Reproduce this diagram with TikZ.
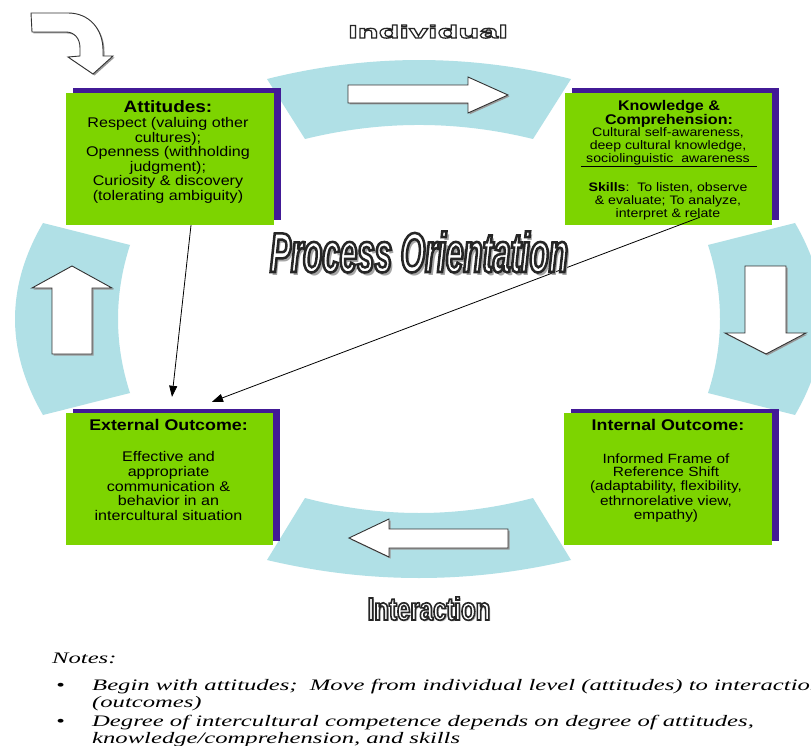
\documentclass[tikz,border=0pt]{standalone}
\usepackage{fontspec}
\setmainfont{Liberation Sans}
\newfontfamily\bx[FakeStretch=1.15]{Liberation Sans}
\newfontfamily\nt[FakeStretch=1.54]{Liberation Serif}
\newfontfamily\pofont[FakeStretch=0.56,FakeBold=4.5]{Liberation Sans}
\newfontfamily\pofontS[FakeStretch=0.56]{Liberation Sans}
\newfontfamily\indfont[FakeStretch=1.9,FakeBold=7]{Liberation Sans}
\newfontfamily\indfontS[FakeStretch=1.9]{Liberation Sans}
\newfontfamily\intfont[FakeStretch=0.75,FakeBold=5]{Liberation Sans}
\newfontfamily\intfontS[FakeStretch=0.75]{Liberation Sans}
\newcommand\blackstroke{\special{pdf:code 0.15 0.15 0.15 RG}}
\usetikzlibrary{arrows.meta,shadows}
\definecolor{ring}{RGB}{176,224,230}
\definecolor{lime}{RGB}{125,212,0}
\definecolor{purp}{RGB}{66,26,150}
\begin{document}
\begin{tikzpicture}[x=1pt,y=-1pt,
  seg/.style={fill=ring,draw=none},
  box/.style={rectangle,fill=lime,draw=none,minimum width=208pt,minimum height=132pt,inner sep=0pt,
     general shadow={fill=purp,shadow xshift=6.5pt,shadow yshift=4.5pt}},
  blk/.style={fill=white,draw=black!80,line width=0.9pt,line join=miter},
  blksh/.style={fill=black!40,draw=none},
  conn/.style={-{Triangle[length=11pt,width=8pt]},line width=0.8pt,black},
  ttl/.style={font=\bx\bfseries\fontsize{16.5}{18}\selectfont,anchor=base,inner sep=0pt},
  body/.style={font=\bx\fontsize{14}{16}\selectfont,anchor=base,inner sep=0pt},
  ktl/.style={font=\bx\bfseries\fontsize{14}{16}\selectfont,anchor=base,inner sep=0pt},
  kbody/.style={font=\bx\fontsize{12.3}{14}\selectfont,anchor=base,inner sep=0pt},
  otl/.style={font=\bx\bfseries\fontsize{15.5}{17}\selectfont,anchor=base,inner sep=0pt},
  notes/.style={font=\nt\itshape\fontsize{16}{18}\selectfont,anchor=base west,inner sep=0pt},
  pofnt/.style={font=\pofont\bfseries\itshape\fontsize{56}{60}\selectfont,anchor=base,inner sep=0pt},
  pofntS/.style={font=\pofontS\bfseries\itshape\fontsize{56}{60}\selectfont,anchor=base,inner sep=0pt},
  indfnt/.style={font=\indfont\bfseries\fontsize{18}{20}\selectfont,anchor=base,inner sep=0pt},
  indfntS/.style={font=\indfontS\bfseries\fontsize{18}{20}\selectfont,anchor=base,inner sep=0pt},
  intfnt/.style={font=\intfont\bfseries\fontsize{32}{34}\selectfont,anchor=base,inner sep=0pt},
  intfntS/.style={font=\intfontS\bfseries\fontsize{32}{34}\selectfont,anchor=base,inner sep=0pt}
]
\useasboundingbox (0,0) rectangle (811,746);
\clip (0,0) rectangle (811,746);
\fill[white] (0,0) rectangle (811,746);

% ring segments
\fill[seg] (267,79) .. controls (368.3,53.7) and (469.7,53.7) .. (571,79) -- (533,139) .. controls (457,120.3) and (381,120.3) .. (305,139) -- cycle;
\fill[seg] (305,498) .. controls (381,518) and (457,518) .. (533,498) -- (571,560) .. controls (469.7,584) and (368.3,584) .. (267,560) -- cycle;
\fill[seg] (43,223) .. controls (5.7,287) and (5.7,351) .. (43,415) -- (130,393) .. controls (114,343.7) and (114,294.3) .. (130,245) -- cycle;
\fill[seg] (795,223) .. controls (832.3,287) and (832.3,351) .. (795,415) -- (708,393) .. controls (724,343.7) and (724,294.3) .. (708,245) -- cycle;

% block arrows
\def\arrT{(348,85) -- (468,85) -- (468,77) -- (508,95) -- (468,113) -- (468,103) -- (348,103) -- cycle}
\def\arrR{(745,266) -- (786,266) -- (786,333) -- (806,333) -- (766,354) -- (725,333) -- (745,333) -- cycle}
\def\arrL{(72,266) -- (112,288) -- (92,288) -- (92,354) -- (52,354) -- (52,288) -- (32,288) -- cycle}
\def\arrB{(349,538) -- (389,519) -- (389,529) -- (508,529) -- (508,548) -- (389,548) -- (389,557) -- cycle}
\def\arrC{(31,13) -- (68,13) .. controls (90,13) and (103,30) .. (103,50) -- (103,56) -- (113,56) -- (93,74) -- (68,57) -- (80,56) -- (80,48) .. controls (80,38) and (74,32) .. (66,32) -- (32,32) -- cycle}
\foreach \p in {\arrT,\arrR,\arrL,\arrB,\arrC}{
  \fill[blksh,xshift=1.5pt,yshift=-1.5pt] \p;
  \draw[blk] \p;
}

% boxes
\node[box] (att) at (170,159) {};
\node[box,minimum width=207pt] (know) at (668.5,159) {};
\node[box,minimum width=207pt] (ext) at (169.5,479) {};
\node[box] (int) at (668,479) {};

% Attitudes text
\node[ttl] (attT) at (168,113) {Attitudes:};
\foreach \yy/\tt [count=\k] in {128/{Respect (valuing other},142.5/{cultures);},157/{Openness (withholding},171.5/{judgment);},186/{Curiosity \& discovery},200.5/{(tolerating ambiguity)}}
  \node[body,name=attL\k] at (168,\yy) {\tt};

% Knowledge text
\node[ktl] (knowT1) at (669,111) {Knowledge \&};
\node[ktl] (knowT2) at (669,124.3) {Comprehension:};
\foreach \yy/\tt [count=\k] in {136.7/{Cultural self-awareness,},150/{deep cultural knowledge,},162.7/{sociolinguistic\ \ awareness},191.7/{{\bfseries Skills}:\ \ To listen, observe},205/{\& evaluate; To analyze,},218/{interpret \& relate}}
  \node[kbody,name=knowL\k] at (668,\yy) {\tt};
\draw[line width=0.8pt] (581,166.5) -- (757,166.5);

% External text
\node[otl] (extT) at (168.5,430) {External Outcome:};
\foreach \yy/\tt [count=\k] in {461.7/{Effective and},476/{appropriate},491/{communication \&},505/{behavior in an},520/{intercultural situation}}
  \node[body,name=extL\k] at (168.5,\yy) {\tt};

% Internal text
\node[otl] (intT) at (668,430) {Internal Outcome:};
\foreach \yy/\tt [count=\k] in {463/{Informed Frame of},476.5/{Reference Shift},490.7/{(adaptability, flexibility,},505/{ethrnorelative view,},519/{empathy)}}
  \node[body,font=\bx\fontsize{13.4}{15}\selectfont,name=intL\k] at (666,\yy) {\tt};

% connectors
\draw[conn] ([xshift=21pt]att.south) -- ([xshift=2.5pt,yshift=16pt]ext.north);
\draw[conn] ([xshift=31.5pt,yshift=8pt]know.south) -- ([xshift=42.5pt,yshift=11pt]ext.north);

% Process Orientation (shadow, then white text with dark stroke)
\coordinate (poc) at (419,272);
\node[pofntS,text=black!35] (posh) at ([xshift=3pt,yshift=-3pt]poc) {Process Orientation};
\node[pofnt,text=white] (po) at (poc) {\blackstroke Process Orientation};

% Individual
\coordinate (indc) at (428,38);
\node[indfntS,text=black!30] (indsh) at ([xshift=1pt,yshift=-1pt]indc) {Individual};
\node[indfnt,text=white] (ind) at (indc) {\blackstroke Individual};

% Interaction
\coordinate (intc) at (429,620);
\node[intfntS,text=black!30] (intsh) at ([xshift=1.5pt,yshift=-1.5pt]intc) {Interaction};
\node[intfnt,text=white] (inter) at (intc) {\blackstroke Interaction};

% Notes
\node[notes] (n0) at (52,663) {Notes:};
\node[notes] (b1) at (56,690) {•};
\node[notes] (n1) at (92,690) {Begin with attitudes;\ \ Move from individual level (attitudes) to interaction};
\node[notes] (n2) at (92,707) {(outcomes)};
\node[notes] (b2) at (56,726) {•};
\node[notes] (n3) at (92,726) {Degree of intercultural competence depends on degree of attitudes,};
\node[notes] (n4) at (92,743) {knowledge/comprehension, and skills};
\end{tikzpicture}
\end{document}
